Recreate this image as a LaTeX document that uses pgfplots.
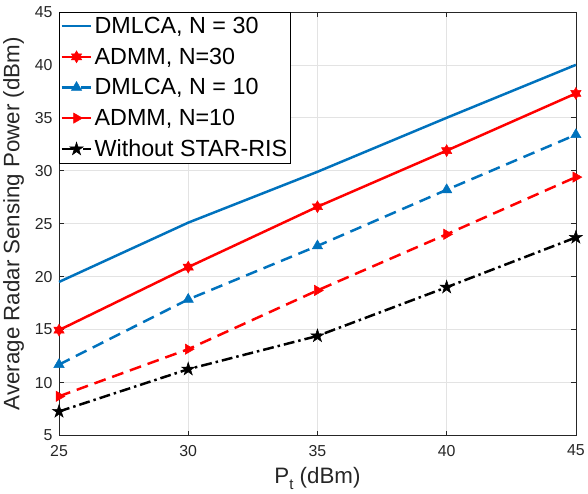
\documentclass[border=0pt]{standalone}
\usepackage{pgfplots}
\pgfplotsset{compat=1.18}
\usepackage{fontspec}
\setmainfont{Liberation Sans}
\definecolor{mblue}{rgb}{0,0.447,0.741}
\definecolor{axgray}{rgb}{0.15,0.15,0.15}
\pgfdeclareplotmark{hexagram}{%
  \pgfpathmoveto{\pgfpointpolar{90}{\pgfplotmarksize}}%
  \pgfpathlineto{\pgfpointpolar{120}{0.577\pgfplotmarksize}}%
  \pgfpathlineto{\pgfpointpolar{150}{\pgfplotmarksize}}%
  \pgfpathlineto{\pgfpointpolar{180}{0.577\pgfplotmarksize}}%
  \pgfpathlineto{\pgfpointpolar{210}{\pgfplotmarksize}}%
  \pgfpathlineto{\pgfpointpolar{240}{0.577\pgfplotmarksize}}%
  \pgfpathlineto{\pgfpointpolar{270}{\pgfplotmarksize}}%
  \pgfpathlineto{\pgfpointpolar{300}{0.577\pgfplotmarksize}}%
  \pgfpathlineto{\pgfpointpolar{330}{\pgfplotmarksize}}%
  \pgfpathlineto{\pgfpointpolar{0}{0.577\pgfplotmarksize}}%
  \pgfpathlineto{\pgfpointpolar{30}{\pgfplotmarksize}}%
  \pgfpathlineto{\pgfpointpolar{60}{0.577\pgfplotmarksize}}%
  \pgfpathclose\pgfusepathqfillstroke}
\pgfdeclareplotmark{pentagram}{%
  \pgfpathmoveto{\pgfpointpolar{90}{\pgfplotmarksize}}%
  \pgfpathlineto{\pgfpointpolar{126}{0.382\pgfplotmarksize}}%
  \pgfpathlineto{\pgfpointpolar{162}{\pgfplotmarksize}}%
  \pgfpathlineto{\pgfpointpolar{198}{0.382\pgfplotmarksize}}%
  \pgfpathlineto{\pgfpointpolar{234}{\pgfplotmarksize}}%
  \pgfpathlineto{\pgfpointpolar{270}{0.382\pgfplotmarksize}}%
  \pgfpathlineto{\pgfpointpolar{306}{\pgfplotmarksize}}%
  \pgfpathlineto{\pgfpointpolar{342}{0.382\pgfplotmarksize}}%
  \pgfpathlineto{\pgfpointpolar{18}{\pgfplotmarksize}}%
  \pgfpathlineto{\pgfpointpolar{54}{0.382\pgfplotmarksize}}%
  \pgfpathclose\pgfusepathqfillstroke}
\begin{document}
\begin{tikzpicture}
\begin{axis}[
  scale only axis,
  width=521pt, height=427pt,
  xmin=25, xmax=45, ymin=5, ymax=45,
  xtick={25,30,35,40,45},
  ytick={5,10,...,45},
  /pgf/number format/assume math mode=true,
  tick label style={font=\fontsize{16}{16}\selectfont, text=axgray},
  xticklabel style={yshift=-6pt},
  yticklabel style={xshift=-3pt},
  label style={font=\fontsize{22.5}{22.5}\selectfont, text=axgray},
  xlabel={P\raisebox{-0.3em}{\fontsize{15}{15}\selectfont t} (dBm)},
  ylabel={Average Radar Sensing Power (dBm)},
  xlabel style={yshift=-4pt},
  ylabel style={yshift=4pt},
  axis line style={axgray, line width=0.6pt},
  tick style={axgray, line width=0.6pt},
  major tick length=5pt,
  tick align=inside,
  grid=major,
  grid style={gray!22, line width=0.6pt},
  legend style={at={(0,1)}, anchor=north west, draw=black, line width=0.8pt,
    font=\fontsize{23.5}{23.5}\selectfont, inner xsep=1pt, inner ysep=3pt,
    row sep=9pt, cells={anchor=west}},
  legend image code/.code={\draw[mark repeat=2,mark phase=2] plot coordinates {(0pt,0pt) (15pt,0pt) (30pt,0pt)};},
  clip=false,
  extra description/.code={\path (rel axis cs:0,1) ++(0pt,12pt);},
]
\addplot[mblue, line width=2.5pt, mark=none] coordinates {(25,19.5) (30,25.1) (35,29.9) (40,35.0) (45,40.0)};
\addlegendentry{DMLCA, N = 30}
\addplot[red, line width=2.5pt, mark=hexagram, mark size=6pt, mark options={solid, fill=red, line width=0.5pt}] coordinates {(25,14.95) (30,20.9) (35,26.6) (40,31.9) (45,37.3)};
\addlegendentry{ADMM, N=30}
\addplot[mblue, line width=2.5pt, dash pattern=on 12pt off 7pt, mark=triangle*, mark size=6pt, mark options={solid, fill=mblue, line width=0.5pt}] coordinates {(25,11.7) (30,17.85) (35,22.9) (40,28.2) (45,33.4)};
\addlegendentry{DMLCA, N = 10}
\addplot[red, line width=2.5pt, dash pattern=on 12pt off 7pt, mark=triangle*, mark size=6pt, mark options={solid, fill=red, line width=0.5pt, rotate=-90}] coordinates {(25,8.7) (30,13.15) (35,18.7) (40,24.0) (45,29.4)};
\addlegendentry{ADMM, N=10}
\addplot[black, line width=2.5pt, dash pattern=on 11pt off 4pt on 2.5pt off 4pt, mark=pentagram, mark size=7pt, mark options={solid, fill=black, line width=0.5pt}] coordinates {(25,7.27) (30,11.26) (35,14.4) (40,19.0) (45,23.7)};
\addlegendentry{Without STAR-RIS}
\end{axis}
\end{tikzpicture}
\end{document}
